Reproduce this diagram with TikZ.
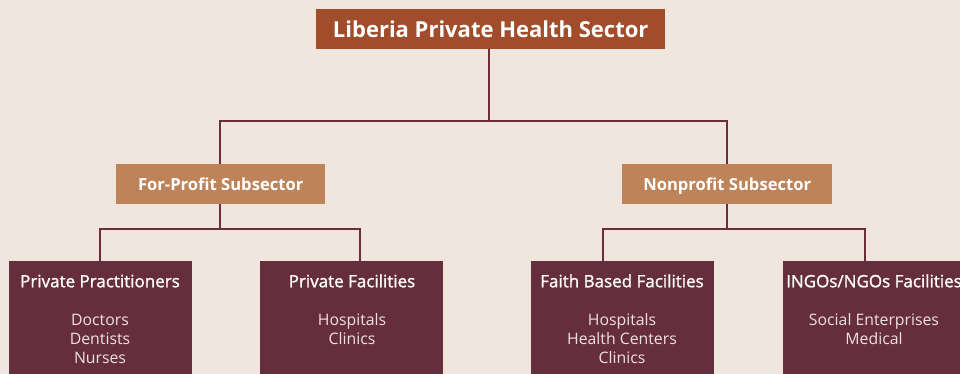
\documentclass[tikz,border=0pt]{standalone}
\usepackage{fontspec}
\setmainfont{Open Sans}
\newfontfamily\semib[FakeBold=1.2]{Open Sans}
\definecolor{bg}{HTML}{F0E6DE}
\definecolor{topc}{HTML}{A14D2B}
\definecolor{subc}{HTML}{BE8358}
\definecolor{leafc}{HTML}{662E3C}
\definecolor{linec}{HTML}{6B2F3B}
\definecolor{itemc}{HTML}{EDE2E2}
\begin{document}
\begin{tikzpicture}[x=1pt,y=-1pt,
  topbox/.style={fill=topc,text=white,font=\bfseries\fontsize{22}{24}\selectfont,inner sep=0pt,anchor=north west,text height=21.5pt,text depth=4.5pt},
  subbox/.style={fill=subc,text=white,font=\bfseries\fontsize{16.6}{19}\selectfont,inner sep=0pt,anchor=north west,text height=16pt,text depth=3.5pt},
  leafbox/.style={fill=leafc,inner sep=0pt,anchor=north west,minimum width=183pt,minimum height=120pt},
  head/.style={text=white,font=\semib\fontsize{17}{19}\selectfont,anchor=center,text height=16pt,text depth=3.5pt},
  items/.style={text=itemc,font=\fontsize{15.8}{19}\selectfont,align=center,anchor=base},
  conn/.style={draw=linec,line width=2.2pt}]
\clip (0,0) rectangle (960,374);
\fill[bg] (0,0) rectangle (960,374);
\node[topbox,minimum width=349pt,minimum height=40pt] (top) at (316,9) {Liberia Private Health Sector};
\node[subbox,minimum width=209pt,minimum height=40pt] (fp) at (116,164) {For-Profit Subsector};
\node[subbox,minimum width=210pt,minimum height=40pt] (np) at (622,164) {Nonprofit Subsector};
\node[leafbox] (pp) at (9,261) {};
\node[leafbox] (pf) at (260,261) {};
\node[leafbox] (fb) at (531,261) {};
\node[leafbox] (ng) at (783,261) {};
\node[head] (pph) at (100,281) {Private Practitioners};
\node[head] (pfh) at (352,281) {Private Facilities};
\node[head] (fbh) at (622,281) {Faith Based Facilities};
\node[head] (ngh) at (874,281) {INGOs/NGOs Facilities};
\node[items] (ppi) at (100,363) {Doctors\\Dentists\\Nurses};
\node[items] (pfi) at (352,344) {Hospitals\\Clinics};
\node[items] (fbi) at (622,363) {Hospitals\\Health Centers\\Clinics};
\node[items] (ngi) at (874,344) {Social Enterprises\\Medical};
% junctions and attachment points
\coordinate (t0) at (489,49);
\coordinate (j1) at (489,121);
\coordinate (fpt) at (220,164);
\coordinate (npt) at (727,164);
\coordinate (fpb) at (220,204);
\coordinate (npb) at (727,204);
\coordinate (j2) at (220,229);
\coordinate (j3) at (727,229);
\coordinate (ppt) at (100,261);
\coordinate (pft) at (360,261);
\coordinate (fbt) at (603,261);
\coordinate (ngt) at (865,261);
\draw[conn] (t0) -- (j1);
\draw[conn] (fpt) |- (j1) -| (npt);
\draw[conn] (fpb) -- (j2);
\draw[conn] (ppt) |- (j2) -| (pft);
\draw[conn] (npb) -- (j3);
\draw[conn] (fbt) |- (j3) -| (ngt);
\end{tikzpicture}
\end{document}
